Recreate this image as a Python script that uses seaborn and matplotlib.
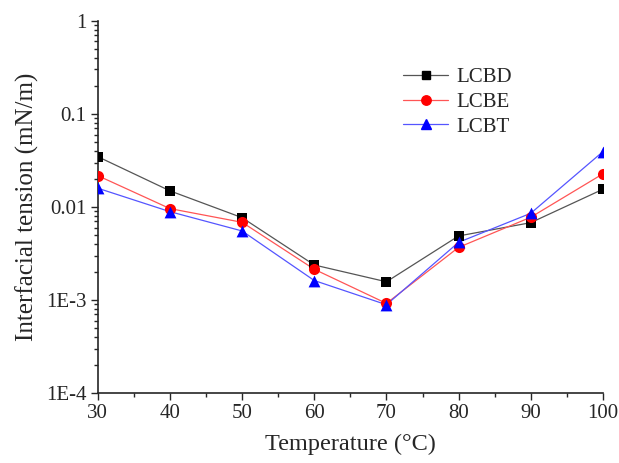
import matplotlib
matplotlib.use("Agg")
import matplotlib.pyplot as plt
import seaborn as sns
import pandas as pd
import numpy as np
from matplotlib.lines import Line2D
from matplotlib.ticker import LogLocator, FixedLocator, MultipleLocator, NullFormatter

temperature = [30, 40, 50, 60, 70, 80, 90, 100]
lcbd = [0.0347, 0.0149, 0.00767, 0.00238, 0.00157, 0.00488, 0.00678, 0.0155]
lcbe = [0.0217, 0.0096, 0.00684, 0.00214, 0.00092, 0.00368, 0.00775, 0.0227]
lcbt = [0.0159, 0.0089, 0.00552, 0.00162, 0.00089, 0.00417, 0.00855, 0.0393]
series_names = ["LCBD", "LCBE", "LCBT"]
ytick_vals = [1e-4, 1e-3, 1e-2, 1e-1, 1]
ytick_labels = ["1E-4", "1E-3", "0.01", "0.1", "1"]

rows = []
for name, vals in zip(series_names, [lcbd, lcbe, lcbt]):
    for t, v in zip(temperature, vals):
        rows.append({"Temperature": t, "IFT": v, "Sample": name})
df = pd.DataFrame(rows)

sns.set_style("ticks")
plt.rcParams["font.family"] = ["Liberation Serif", "DejaVu Serif"]

colors = {"LCBD": "#000000", "LCBE": "#ff0000", "LCBT": "#0000ff"}
line_colors = {"LCBD": "#555555", "LCBE": "#ff5555", "LCBT": "#5555ff"}
markers = {"LCBD": "s", "LCBE": "o", "LCBT": "^"}
msizes = {"LCBD": 7, "LCBE": 8, "LCBT": 8.5}

fig = plt.figure(figsize=(6.19, 4.63), dpi=100)
ax = fig.add_axes([0.158, 0.151, 0.816, 0.804])

for name in series_names:
    sub = df[df["Sample"] == name]
    sns.lineplot(data=sub, x="Temperature", y="IFT", ax=ax, color=line_colors[name],
                 linewidth=0.9, legend=False)
    sns.scatterplot(data=sub, x="Temperature", y="IFT", ax=ax, color=colors[name],
                    marker=markers[name], s=msizes[name] ** 2, edgecolor=colors[name],
                    linewidth=0, legend=False, zorder=3)

ax.set_yscale("log")
ax.set_ylim(1e-4, 1)
ax.set_xlim(30, 100)
ax.xaxis.set_major_locator(MultipleLocator(10))
ax.xaxis.set_minor_locator(MultipleLocator(5))
ax.yaxis.set_major_locator(FixedLocator(ytick_vals))
ax.set_yticklabels(ytick_labels)
ax.yaxis.set_minor_locator(LogLocator(base=10, subs=np.arange(2, 10)))
ax.yaxis.set_minor_formatter(NullFormatter())
ax.tick_params(axis="both", which="major", direction="out", length=5, width=1, labelsize=15, pad=3)
ax.tick_params(axis="both", which="minor", direction="out", length=3, width=1)
sns.despine(ax=ax)
for s in ["left", "bottom"]:
    ax.spines[s].set_linewidth(1.2)

ax.set_xlabel("Temperature (°C)", fontsize=17.5, labelpad=8)
ax.set_ylabel("Interfacial tension (mN/m)", fontsize=18, labelpad=5)

handles = [Line2D([0], [0], color=line_colors[n], lw=0.9, marker=markers[n],
                  markersize=msizes[n] * 0.85, markerfacecolor=colors[n],
                  markeredgecolor=colors[n]) for n in series_names]
ax.legend(handles, series_names, loc="upper left", bbox_to_anchor=(0.568, 0.925),
          frameon=False, fontsize=15, handlelength=2.15, labelspacing=0.25,
          handletextpad=0.4)

fig.savefig("out.png", dpi=100)
